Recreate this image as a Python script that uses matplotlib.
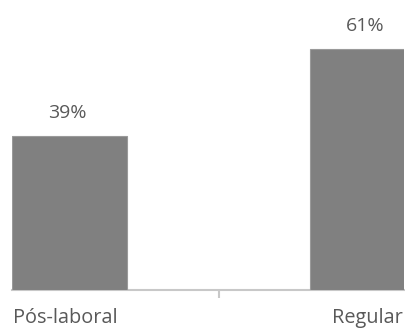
import matplotlib.pyplot as plt
import matplotlib.transforms as mtransforms

# Proporção de alunos por regime
regimes = ['Pós-laboral', 'Regular']
percentagens = [39, 61]
rotulos = ['39%', '61%']

plt.rcParams['font.family'] = ['Open Sans', 'DejaVu Sans']
cor_texto = '#595959'

fig = plt.figure(figsize=(4.06, 3.32), dpi=100)
ax = fig.add_axes([12 / 406, 42 / 332, 392 / 406, 276.6 / 332])

x = range(len(regimes))
barras = ax.bar(x, percentagens, width=0.386, color='#808080',
                edgecolor='#9a9a9a', linewidth=0.8, zorder=3)

for b, txt in zip(barras, rotulos):
    ax.annotate(txt, (b.get_x() + b.get_width() / 2, b.get_height()),
                xytext=(-2, 23), textcoords='offset pixels',
                ha='center', va='center', fontsize=14, color=cor_texto)

ax.set_xlim(-0.193, 1.1225)
ax.set_ylim(0, 70)

for s in ['top', 'right', 'left']:
    ax.spines[s].set_visible(False)
ax.spines['bottom'].set_color('#c8c8c8')
ax.spines['bottom'].set_linewidth(1.5)
ax.spines['bottom'].set_zorder(2)

ax.set_yticks([])
ax.set_xticks(list(x))
ax.set_xticklabels(regimes, fontsize=14.3, color=cor_texto)
ax.tick_params(axis='x', which='major', length=0, pad=20)
ax.set_xticks([0.5], minor=True)
ax.tick_params(axis='x', which='minor', length=6, width=1.5, color='#c8c8c8')
for lbl in ax.get_xticklabels():
    lbl.set_verticalalignment('center')
# primeiro rótulo um pouco à esquerda
lbl0 = ax.get_xticklabels()[0]
lbl0.set_transform(lbl0.get_transform() +
                   mtransforms.ScaledTranslation(-4 / 100, 0, fig.dpi_scale_trans))

fig.savefig('out.png', dpi=100, facecolor='white')
